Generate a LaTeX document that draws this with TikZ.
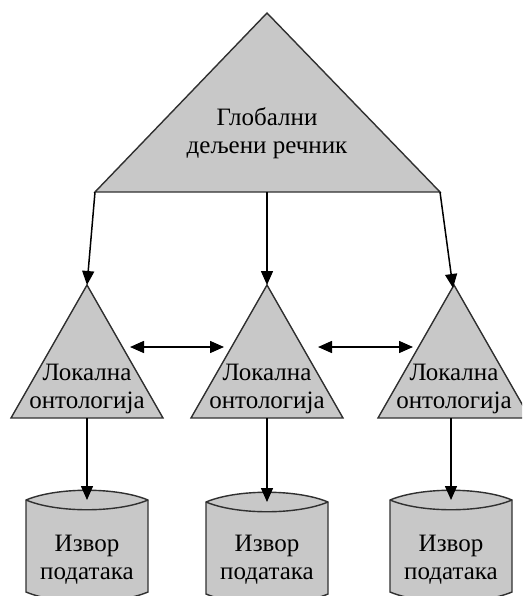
\documentclass[tikz,border=0pt]{standalone}
\usepackage{fontspec}
\setmainfont{Liberation Serif}
\usetikzlibrary{arrows.meta}
\definecolor{fillgray}{HTML}{C8C8C8}
\definecolor{linegray}{HTML}{303030}
\tikzset{
  shapeline/.style={draw=linegray, line width=1.4pt, fill=fillgray, line join=miter},
  lbl/.style={align=center, inner sep=0pt, font=\fontsize{25}{28}\selectfont, text=black},
  conn/.style={draw=black, line width=1.5pt, -{Triangle[length=14pt,width=12pt]}},
  biconn/.style={draw=black, line width=1.5pt, {Triangle[length=14pt,width=12pt]}-{Triangle[length=14pt,width=12pt]}},
  pics/dbcyl/.style={code={
    \path[shapeline] (-61,0) .. controls (-30,-13) and (30,-13) .. (61,0) -- (61,92)
      .. controls (30,105) and (-30,105) .. (-61,92) -- cycle;
    \draw[draw=linegray, line width=1.4pt] (-61,0) .. controls (-30,13) and (30,13) .. (61,0);
  }}
}
\begin{document}
\begin{tikzpicture}[x=1pt,y=-1pt]
\useasboundingbox (0,0) rectangle (522,596);
\clip (0,0) rectangle (522,596);
% global triangle
\coordinate (gA) at (267,13);
\coordinate (gL) at (95,192);
\coordinate (gR) at (440,192);
\coordinate (gM) at (267,192);
\path[shapeline] (gA) -- (gR) -- (gL) -- cycle;
\node[lbl] (glob) at (267,133) {Глобални\\дељени речник};
% local triangles
\foreach \n/\c in {1/87,2/267,3/454}{
  \coordinate (a\n) at (\c,285);
  \coordinate (bl\n) at (\c-76,418);
  \coordinate (br\n) at (\c+76,418);
  \coordinate (bm\n) at (\c,418);
  \path[shapeline] (a\n) -- (br\n) -- (bl\n) -- cycle;
  \node[lbl] (loc\n) at (\c,389) {Локална\\онтологија};
}
% cylinders
\foreach \n/\c/\t in {1/87/500,2/267/502,3/451/500}{
  \pic at (\c,\t) {dbcyl};
  \coordinate (ct\n) at (\c,\t);
  \node[lbl] (src\n) at (\c,560) {Извор\\података};
}
% arrows from global to local
\coordinate (a3tip) at (453,288);
\coordinate (bm3s) at (451,418);
\draw[conn] (gL) -- (a1);
\draw[conn] (gM) -- (a2);
\draw[conn] (gR) -- (a3tip);
% arrows from local to sources
\draw[conn] (bm1) -- (ct1);
\draw[conn] (bm2) -- (ct2);
\draw[conn] (bm3s) -- (ct3);
% double arrows
\coordinate (d1s) at (130,347);
\coordinate (d1e) at (224,347);
\coordinate (d2s) at (318,347);
\coordinate (d2e) at (413,347);
\draw[biconn] (d1s) -- (d1e);
\draw[biconn] (d2s) -- (d2e);
\end{tikzpicture}
\end{document}
